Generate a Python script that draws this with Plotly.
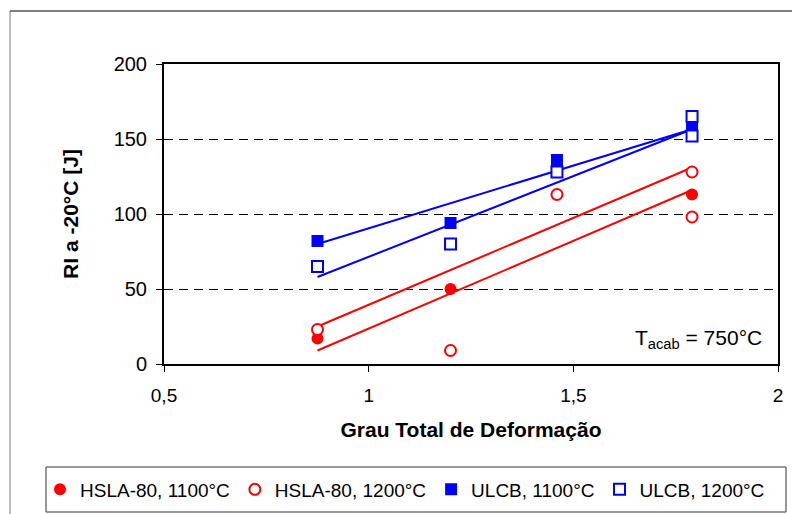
import plotly.graph_objects as go

# ---- data ----
hsla_1100_x = [0.875, 1.2, 1.79]
hsla_1100_y = [17, 50, 113]
hsla_1200_x = [0.875, 1.2, 1.46, 1.79, 1.79]
hsla_1200_y = [23, 9, 113, 128, 98]
ulcb_1100_x = [0.875, 1.2, 1.46, 1.79]
ulcb_1100_y = [82, 94, 136, 157]
ulcb_1200_x = [0.875, 1.2, 1.46, 1.79, 1.79]
ulcb_1200_y = [65, 80, 128, 165, 152]

trend_x = [0.875, 1.79]
trend_hsla_1100 = [25, 131]
trend_hsla_1200 = [9, 116]
trend_ulcb_1100 = [80, 156.5]
trend_ulcb_1200 = [58, 156.5]

names = ["HSLA-80, 1100°C", "HSLA-80, 1200°C", "ULCB, 1100°C", "ULCB, 1200°C"]
x_ticks = [0.5, 1, 1.5, 2]
x_ticktext = ["0,5", "1", "1,5", "2"]
y_ticks = [0, 50, 100, 150, 200]

RED = "#ff0000"
BLUE = "#0000ff"
FONT = "Liberation Sans, Arial, sans-serif"

fig = go.Figure()

# trend lines (under markers)
for ys, col in [(trend_hsla_1100, RED), (trend_hsla_1200, RED),
                (trend_ulcb_1100, BLUE), (trend_ulcb_1200, BLUE)]:
    fig.add_trace(go.Scatter(x=trend_x, y=ys, mode="lines",
                             line=dict(color=col, width=2), showlegend=False,
                             hoverinfo="skip"))

fig.add_trace(go.Scatter(x=hsla_1100_x, y=hsla_1100_y, mode="markers", name=names[0],
                         marker=dict(symbol="circle", size=12, color=RED,
                                     line=dict(color=RED, width=0))))
fig.add_trace(go.Scatter(x=hsla_1200_x, y=hsla_1200_y, mode="markers", name=names[1],
                         marker=dict(symbol="circle", size=11, color="white",
                                     line=dict(color=RED, width=2))))
fig.add_trace(go.Scatter(x=ulcb_1100_x, y=ulcb_1100_y, mode="markers", name=names[2],
                         marker=dict(symbol="square", size=12, color=BLUE,
                                     line=dict(color=BLUE, width=0))))
fig.add_trace(go.Scatter(x=ulcb_1200_x, y=ulcb_1200_y, mode="markers", name=names[3],
                         marker=dict(symbol="square", size=11, color="white",
                                     line=dict(color=BLUE, width=2))))

# the page body has an 8px margin: the whole figure is drawn 8px right/down
OFF = 8
W, H = 800, 514
L, T = 164 - OFF, 64 - OFF
R, B = W - (778 - OFF), H - (364 - OFF)
pw, ph = W - L - R, H - T - B


def px_x(px):
    """reference-screen x pixel -> paper fraction"""
    return (px - OFF - L) / pw


def px_y(py):
    """reference-screen y pixel -> paper fraction"""
    return (H - B - (py - OFF)) / ph


fig.update_layout(
    width=W, height=H,
    margin=dict(l=L, r=R, t=T, b=B, autoexpand=False),
    paper_bgcolor="white", plot_bgcolor="white",
    font=dict(family=FONT, color="black", size=20),
    showlegend=True,
    legend=dict(orientation="h", x=px_x(40), xanchor="left",
                y=px_y(489.5), yanchor="middle",
                font=dict(size=19, family=FONT), bgcolor="rgba(0,0,0,0)",
                borderwidth=0, itemwidth=30, tracegroupgap=0),
    xaxis=dict(range=[0.5, 2], tickvals=x_ticks, ticktext=x_ticktext,
               showline=True, linecolor="black", linewidth=2, mirror=True,
               ticks="outside", ticklen=6, tickcolor="black", tickwidth=1,
               showgrid=False, zeroline=False, ticklabelstandoff=7,
               tickfont=dict(size=19), automargin=False,
               title=dict(text="<b>Grau Total de Deformação</b>",
                          font=dict(size=21), standoff=18)),
    yaxis=dict(range=[0, 200], tickvals=y_ticks,
               showline=True, linecolor="black", linewidth=2, mirror=True,
               ticks="outside", ticklen=6, tickcolor="black", tickwidth=1,
               showgrid=True, gridcolor="black", gridwidth=1, griddash="9px,6px",
               zeroline=False, ticklabelstandoff=5, automargin=False,
               tickfont=dict(size=20),
               title=dict(text="<b>RI a -20°C [J]</b>",
                          font=dict(size=21), standoff=29)),
    shapes=[
        # outer chart frame (top and left edges visible)
        dict(type="line", xref="paper", yref="paper", x0=px_x(10), x1=px_x(810),
             y0=px_y(11), y1=px_y(11), line=dict(color="black", width=1)),
        dict(type="line", xref="paper", yref="paper", x0=px_x(10), x1=px_x(10),
             y0=px_y(11), y1=px_y(522), line=dict(color="#777777", width=1)),
        # legend box
        dict(type="rect", xref="paper", yref="paper", x0=px_x(46), x1=px_x(786),
             y0=px_y(512), y1=px_y(467), line=dict(color="#333333", width=1),
             fillcolor="rgba(0,0,0,0)"),
    ],
    annotations=[
        dict(text="T<sub>acab</sub> = 750°C", xref="paper", yref="paper",
             x=px_x(764), xanchor="right", y=px_y(339), yanchor="middle",
             showarrow=False, font=dict(size=21, family=FONT)),
    ],
)

fig.write_html("out.html")
